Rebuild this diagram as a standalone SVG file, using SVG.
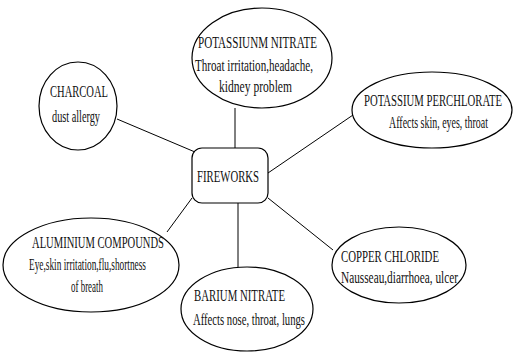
<svg xmlns="http://www.w3.org/2000/svg" width="513" height="352" viewBox="0 0 513 352">
<style>
.n{fill:#fff;stroke:#000;stroke-width:1.2}
.c{stroke:#000;stroke-width:1;fill:none}
text{font-family:"Liberation Serif","Times New Roman",serif;font-size:17px;fill:#111}
</style>
<rect width="513" height="352" fill="#fff"/>
<g id="connectors">
<line class="c" x1="235" y1="108" x2="235" y2="148"/>
<line class="c" x1="117" y1="119" x2="195" y2="152"/>
<line class="c" x1="268" y1="173" x2="353" y2="115"/>
<line class="c" x1="192" y1="198" x2="167" y2="232"/>
<line class="c" x1="238" y1="203" x2="238" y2="267"/>
<line class="c" x1="268" y1="198" x2="333" y2="250"/>
</g>
<g id="fireworks">
<rect class="n" x="192" y="148" width="76" height="55" rx="10"/>
<text x="197" y="182" textLength="62" lengthAdjust="spacingAndGlyphs">FIREWORKS</text>
</g>
<g id="potassium-nitrate">
<ellipse class="n" cx="262" cy="58" rx="70" ry="50"/>
<text x="198" y="48" textLength="119" lengthAdjust="spacingAndGlyphs">POTASSIUNM NITRATE</text>
<text x="195" y="71" textLength="118" lengthAdjust="spacingAndGlyphs">Throat irritation,headache,</text>
<text x="219" y="92" textLength="73" lengthAdjust="spacingAndGlyphs">kidney problem</text>
</g>
<g id="charcoal">
<ellipse class="n" cx="78" cy="106" rx="39" ry="44"/>
<text x="50" y="97" textLength="58" lengthAdjust="spacingAndGlyphs">CHARCOAL</text>
<text x="52" y="122" textLength="48" lengthAdjust="spacingAndGlyphs">dust allergy</text>
</g>
<g id="potassium-perchlorate">
<ellipse class="n" cx="432" cy="110" rx="80" ry="38"/>
<text x="364" y="106" textLength="138" lengthAdjust="spacingAndGlyphs">POTASSIUM PERCHLORATE</text>
<text x="389" y="128" textLength="99" lengthAdjust="spacingAndGlyphs">Affects skin, eyes, throat</text>
</g>
<g id="aluminium-compounds">
<ellipse class="n" cx="91" cy="265" rx="88" ry="47"/>
<text x="32" y="248" textLength="132" lengthAdjust="spacingAndGlyphs">ALUMINIUM COMPOUNDS</text>
<text x="29" y="270" textLength="117" lengthAdjust="spacingAndGlyphs">Eye,skin irritation,flu,shortness</text>
<text x="71" y="292" textLength="32" lengthAdjust="spacingAndGlyphs">of breath</text>
</g>
<g id="barium-nitrate">
<ellipse class="n" cx="247" cy="309" rx="66" ry="42"/>
<text x="194" y="301" textLength="91" lengthAdjust="spacingAndGlyphs">BARIUM NITRATE</text>
<text x="193" y="325" textLength="112" lengthAdjust="spacingAndGlyphs">Affects nose, throat, lungs</text>
</g>
<g id="copper-chloride">
<ellipse class="n" cx="399" cy="265" rx="67" ry="38"/>
<text x="341" y="262" textLength="98" lengthAdjust="spacingAndGlyphs">COPPER CHLORIDE</text>
<text x="341" y="283" textLength="117" lengthAdjust="spacingAndGlyphs">Nausseau,diarrhoea, ulcer</text>
</g>
</svg>
